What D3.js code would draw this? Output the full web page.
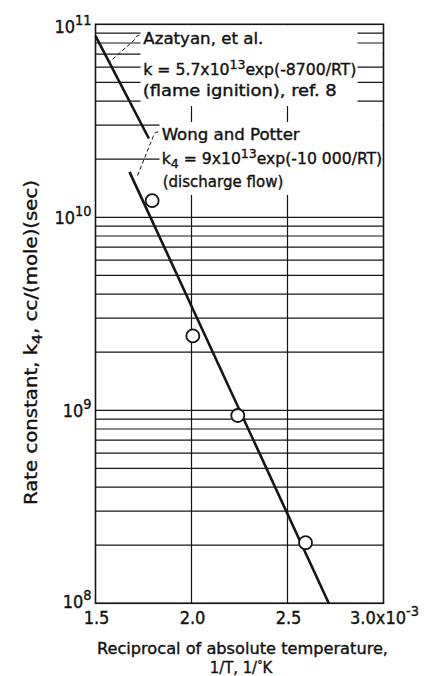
<!DOCTYPE html>
<html>
<head>
<meta charset="utf-8">
<script src="https://cdn.jsdelivr.net/npm/d3@7"></script>
<style>
  html, body { margin: 0; padding: 0; background: #fff; }
  svg { display: block; }
  text { font-family: 'DejaVu Sans Condensed', 'Liberation Sans Narrow', 'DejaVu Sans', sans-serif; fill: #111; stroke: #111; stroke-width: 0.35; }
</style>
</head>
<body>
<svg id="chart" width="427" height="676"></svg>
<script>
// ---- data (1/T in units of 1e-3 1/K, k in cc/(mole)(sec)) ----
const xTickValues = [1.5, 2.0, 2.5, 3.0];
const xTickLabels = ["1.5", "2.0", "2.5", "3.0"];
const yDecadeExponents = [8, 9, 10, 11];
const gridMultipliers = [1, 2, 3, 4, 5, 6, 7, 8, 9];

// measured points (Wong and Potter, discharge flow)
const pointX = [1.795, 2.007, 2.241, 2.594];
const pointK = [1.22e10, 2.43e9, 9.4e8, 2.06e8];

// Azatyan et al. line (flame ignition), ends
const azatyanX = [1.5, 1.778];
const azatyanK = [8.7e10, 2.56e10];

// Wong and Potter line, ends
const wongX = [1.677, 2.715];
const wongK = [1.72e10, 1.0e8];

// leader lines (data coordinates): [top, bottom]
const azatyanLeaderX = [1.708, 1.575];
const azatyanLeaderK = [8.6e10, 6.4e10];
const wongLeaderX = [1.806, 1.716];
const wongLeaderK = [2.72e10, 1.62e10];

// ---- layout ----
const svg = d3.select("#chart");
const L = 95.5, R = 383.5, T = 24.3, B = 603.3;
const x = d3.scaleLinear().domain([1.5, 3.0]).range([L, R]);
const y = d3.scaleLog().domain([1e8, 1e11]).range([B, T]);
const ink = "#151515";

// horizontal grid
const gridVals = [];
yDecadeExponents.slice(0, 3).forEach(e => gridMultipliers.forEach(m => gridVals.push(m * Math.pow(10, e))));
svg.append("g").selectAll("line").data(gridVals).join("line")
  .attr("x1", L).attr("x2", R)
  .attr("y1", d => y(d)).attr("y2", d => y(d))
  .attr("stroke", ink).attr("stroke-width", 1.2);

// vertical grid
svg.append("g").selectAll("line").data(xTickValues.slice(1, 3)).join("line")
  .attr("x1", d => x(d)).attr("x2", d => x(d))
  .attr("y1", T).attr("y2", B)
  .attr("stroke", ink).attr("stroke-width", 1.2);

// text masks (white boxes behind annotation text)
const masks = [
  {x0: 140.5, x1: 357.5, y0: T + 0.8, y1: 106},
  {x0: 357, x1: R - 0.8, y0: 49, y1: 59},
  {x0: 159.5, x1: R - 0.8, y0: 122, y1: 195}
];
svg.append("g").selectAll("rect").data(masks).join("rect")
  .attr("x", d => d.x0).attr("y", d => d.y0)
  .attr("width", d => d.x1 - d.x0).attr("height", d => d.y1 - d.y0)
  .attr("fill", "#fff");

// frame
svg.append("rect").attr("x", L).attr("y", T).attr("width", R - L).attr("height", B - T)
  .attr("fill", "none").attr("stroke", ink).attr("stroke-width", 1.6);

// fit lines
const lineGen = d3.line().x(d => x(d[0])).y(d => y(d[1]));
svg.append("path").datum(d3.zip(azatyanX, azatyanK)).attr("d", lineGen)
  .attr("stroke", ink).attr("stroke-width", 2.6).attr("fill", "none");
svg.append("path").datum(d3.zip(wongX, wongK)).attr("d", lineGen)
  .attr("stroke", ink).attr("stroke-width", 2.6).attr("fill", "none");

// leaders
function leader(xs, ks) {
  const x0 = x(xs[0]), y0 = y(ks[0]), x1 = x(xs[1]), y1 = y(ks[1]);
  const p = d3.path();
  p.moveTo(x0 + 4, y0 - 1.5);
  p.quadraticCurveTo(x0, y0 - 1.5, x0 - 1, y0 + 3);
  p.lineTo(x1, y1);
  return p.toString();
}
svg.append("path").attr("d", leader(azatyanLeaderX, azatyanLeaderK))
  .attr("stroke", ink).attr("stroke-width", 1).attr("stroke-dasharray", "4,2.5").attr("fill", "none");
svg.append("path").attr("d", leader(wongLeaderX, wongLeaderK))
  .attr("stroke", ink).attr("stroke-width", 1).attr("stroke-dasharray", "4,2.5").attr("fill", "none");

// points
svg.append("g").selectAll("circle").data(d3.zip(pointX, pointK)).join("circle")
  .attr("cx", d => x(d[0])).attr("cy", d => y(d[1])).attr("r", 6.5)
  .attr("fill", "#fff").attr("stroke", ink).attr("stroke-width", 1.8);

// annotations
const fs = 18, afs = 16;
function addText(tx, ty, parts, len) {
  const t = svg.append("text").attr("x", tx).attr("y", ty).attr("font-size", afs);
  parts.forEach(p => {
    const s = t.append("tspan").text(p.t);
    if (p.sup) s.attr("font-size", afs * 0.8).attr("dy", -6);
    if (p.sub) s.attr("font-size", afs * 0.8).attr("dy", 3.5);
    if (p.back) s.attr("dy", p.back);
  });
  if (len) t.attr("textLength", len).attr("lengthAdjust", "spacingAndGlyphs");
  return t;
}
addText(143.3, 44, [{t: "Azatyan, et al."}], 120);
addText(143.3, 75, [{t: "k = 5.7x10"}, {t: "13", sup: true}, {t: "exp(-8700/RT)", back: 6}], 213);
addText(142.7, 96, [{t: "(flame ignition), ref. 8"}], 194);
addText(161.7, 140, [{t: "Wong and Potter"}], 138);
addText(161.7, 164, [{t: "k"}, {t: "4", sub: true}, {t: " = 9x10", back: -3.5}, {t: "13", sup: true}, {t: "exp(-10 000/RT)", back: 6}], 220.5);
addText(162.7, 187, [{t: "(discharge flow)"}], 120.6);

// y tick labels
yDecadeExponents.forEach(e => {
  const t = svg.append("text").attr("x", L - 4).attr("y", y(Math.pow(10, e)) + 7 - (e === 11 ? -2 : 0) - (e === 8 ? 2 : 0))
    .attr("font-size", fs).attr("text-anchor", "end");
  t.append("tspan").text("10");
  t.append("tspan").text(String(e)).attr("font-size", fs * 0.8).attr("dy", -8);
});

// x tick labels
xTickValues.forEach((v, i) => {
  const t = svg.append("text").attr("x", x(v) + 1).attr("y", 623.5).attr("font-size", fs).attr("text-anchor", "middle");
  t.append("tspan").text(xTickLabels[i]);
  if (i === xTickValues.length - 1) {
    t.append("tspan").text("x10");
    t.append("tspan").text("-3").attr("font-size", fs * 0.8).attr("dy", -8);
  }
});

// axis titles
svg.append("text").attr("x", 242.5).attr("y", 653.5).attr("font-size", 16.5).attr("text-anchor", "middle")
  .attr("textLength", 291).attr("lengthAdjust", "spacingAndGlyphs")
  .text("Reciprocal of absolute temperature,");
const xt2 = svg.append("text").attr("x", 241).attr("y", 673).attr("font-size", 16.5).attr("text-anchor", "middle");
xt2.append("tspan").text("1/T, 1/");
xt2.append("tspan").text("°").attr("font-size", 12).attr("dy", -4);
xt2.append("tspan").text("K").attr("dy", 4);

const yt = svg.append("text").attr("transform", "translate(37,505) rotate(-90)")
  .attr("font-size", fs).attr("text-anchor", "start")
  .attr("textLength", 325).attr("lengthAdjust", "spacingAndGlyphs");
yt.append("tspan").text("Rate constant,  k");
yt.append("tspan").text("4").attr("font-size", fs * 0.8).attr("dy", 5);
yt.append("tspan").text(",  cc/(mole)(sec)").attr("dy", -5);
</script>
</body>
</html>
